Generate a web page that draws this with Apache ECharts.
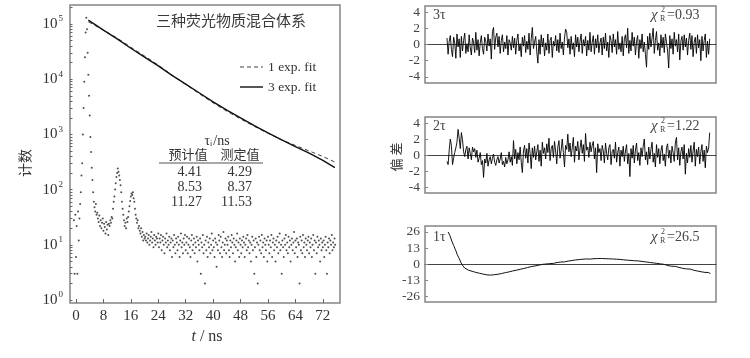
<!DOCTYPE html>
<html><head><meta charset="utf-8">
<script src="https://cdn.jsdelivr.net/npm/echarts@6/dist/echarts.min.js"></script>
<style>html,body{margin:0;padding:0;background:#fff}#c{width:750px;height:358px}</style>
</head><body><div id="c"></div>
<script>
// ---------- data ----------
const irfStart = -0.6, irfStep = 0.2;
const irfCounts = [
 28,3,35,6,22,3,40,12,30,55,
 90,180,300,1000,3000,9000,25000,70000,130000,80000,30000,12000,5000,2200,900,480,250,150,90,60,48,40,55,35,
 38,30,26,34,22,28,20,25,30,18,24,21,16,26,19,23,15,24,22,28,25,32,30,
 45,60,75,100,130,170,200,240,210,180,150,120,90,60,45,35,28,22,25,20,30,
 26,32,40,50,62,75,85,80,90,70,60,45,35,30,25,28,20,22,18,16,20,14,17,12,15,13,
 14,12,16,11,13,15,10,12,14,17,11,13,9,15,12,10,14,13,11,16,
 9,13,11,15,8,12,14,10,7,13,11,16,9,12,10,14,8,11,13,6,
 12,9,15,10,7,13,11,8,14,10,6,12,16,9,11,7,13,10,15,8,
 11,14,7,10,13,9,6,12,15,8,10,13,7,11,9,14,5,12,10,8,
 13,3,11,9,15,7,10,2,12,8,14,6,11,9,13,7,10,16,8,12,
 9,6,13,11,4,10,8,15,12,7,14,9,6,11,17,8,10,13,7,12,
 10,14,8,6,12,9,15,11,7,13,10,5,9,12,16,8,11,6,13,10,
 7,12,9,14,11,6,10,13,8,15,9,12,7,11,5,10,14,8,12,3,
 9,13,6,11,2,10,14,8,12,7,15,9,11,6,13,10,8,12,5,14,
 10,7,12,9,15,6,11,13,8,10,5,12,9,14,7,11,16,8,10,3,
 12,9,6,13,10,15,8,11,7,14,9,12,5,10,13,8,11,17,7,12,
 9,13,6,11,10,2,14,8,12,7,15,9,11,6,13,10,8,12,14,7,
 11,9,13,6,10,15,8,12,3,11,7,14,9,12,10,5,13,8,11,9,
 12,6,10,14,8,3,11,9,13,7,12,10,15,8,11,9,13,10
];
const fitTimes = [3.6,4,8,12,16,20,24,28,32,36,40,44,48,52,56,60,64,68,72,75.5];
const fit3Counts = [117500,114800,77600,53700,36300,25100,17400,11750,8130,5620,3890,2750,2000,1445,1070,794,603,457,339,251];
const fit1Counts = [109600,107200,77600,55600,38000,26300,18000,11900,8040,5430,3720,2630,1905,1400,1047,794,631,501,398,316];

const resStart = 4.2, resStep = 0.3;
const res3 = [
 0.8,-1.2,0.4,1.1,-0.6,-1.5,0.9,0.2,-1.7,1.3,-0.3,0.7,-1.6,1.0,-0.8,0.5,1.4,-1.1,0.1,-0.9,
 1.2,-0.4,-1.3,0.8,0.3,-1.0,1.5,-0.7,0.6,-1.4,0.2,1.1,-0.5,-1.2,0.9,0.4,-0.8,1.3,-0.2,0.7,
 -1.8,1.6,2.1,-0.6,0.9,1.4,-0.3,1.0,-1.1,0.5,1.2,-0.9,0.3,-0.5,1.1,-1.3,0.6,0.2,-0.7,1.0,
 -0.4,0.8,-1.2,0.5,1.3,-0.8,0.1,-1.5,0.9,-0.2,1.1,-1.0,0.4,-0.6,1.4,-1.3,0.7,2.1,-0.5,0.3,
 1.0,-0.9,-2.3,0.6,-1.2,1.2,-0.3,0.8,-1.4,0.2,-0.7,1.3,-1.1,0.5,0.9,-1.6,0.4,-0.2,1.1,-0.8,
 0.6,-1.0,1.4,-0.5,0.3,-1.3,0.8,1.9,1.5,-0.4,0.7,-1.2,1.0,-0.6,0.2,-1.5,1.2,-0.3,0.9,-0.9,
 0.4,1.3,-1.1,0.6,-0.2,1.0,-1.4,0.5,-0.7,1.5,-0.9,0.3,1.1,-1.2,0.7,-0.4,1.2,-1.0,0.2,0.8,
 -1.3,0.9,-0.5,1.4,-0.8,0.3,-1.6,1.1,0.5,-1.0,1.3,-0.3,0.6,-1.2,1.6,-0.6,0.2,-0.9,1.0,-1.4,
 0.7,1.2,-0.4,2.0,-1.1,0.5,-0.8,1.5,-0.2,0.9,-1.3,0.4,1.1,-1.7,0.6,-0.5,1.3,-0.9,0.3,-1.2,
 -2.8,1.0,-0.6,1.4,-0.3,0.8,2.0,-1.1,0.5,1.6,-0.7,0.2,-1.4,1.2,-0.4,0.9,-1.0,1.3,0.3,-0.8,
 -2.9,1.1,-0.5,0.7,-1.2,1.5,-0.2,0.6,-0.9,1.3,-1.9,0.4,1.0,-0.7,1.2,-0.3,0.8,-1.3,0.5,1.4,
 -0.6,1.1,-1.5,0.3,0.9,-1.1,1.2,-0.4,0.6,-2.0,1.0,-0.8,0.5,1.3,-1.6,0.4,-1.2,0.7
];
const res2 = [
 -0.8,-1.2,0.6,2.0,1.2,-1.2,-0.4,0.3,0.9,1.6,3.2,2.1,0.8,2.8,1.9,0.4,-0.2,0.7,1.1,-0.5,
 0.9,0.2,-0.6,1.0,0.4,0.8,-0.3,0.6,-0.9,-0.4,0.3,-1.2,-0.7,-2.8,-0.5,-1.0,0.2,-1.4,-0.6,-0.2,
 -1.1,-0.4,0.1,-0.9,-1.3,-0.6,-0.2,-1.0,-0.5,0.3,-1.2,-0.8,-1.5,-0.3,-1.1,-0.6,0.4,-0.9,-0.2,-1.3,
 1.8,-0.5,0.7,-1.1,0.3,-0.6,1.0,-0.9,-2.2,0.5,1.2,-0.4,0.8,-1.0,1.5,0.2,-1.7,0.9,-0.3,1.1,
 -0.6,0.4,1.3,-0.8,0.6,-1.4,1.6,0.2,0.9,-0.5,1.4,0.3,2.1,-0.7,0.8,1.2,-0.3,1.7,0.5,-1.1,
 1.0,1.8,-0.4,0.6,2.0,0.3,-1.5,1.2,0.7,2.6,0.4,1.5,-0.2,0.9,2.2,-0.9,1.1,0.5,1.7,-0.6,
 0.8,1.9,0.2,1.3,-0.8,2.7,0.6,1.0,-0.3,1.6,0.4,1.2,1.7,-0.5,0.9,-2.2,1.4,0.3,0.8,-0.7,
 1.2,0.5,-1.0,1.5,0.2,-0.6,0.9,1.3,-1.2,0.4,0.7,-0.4,1.6,-0.9,0.3,1.0,-1.4,0.6,-0.2,1.1,
 -0.8,0.5,1.3,-1.1,0.2,-2.7,0.8,-0.4,1.2,-1.0,0.6,1.5,-0.7,0.3,-1.3,0.9,-0.2,1.1,2.0,-0.6,
 0.4,-1.2,1.0,-0.5,0.7,1.6,-0.9,0.2,-1.5,1.3,-0.3,0.8,-1.1,0.5,1.2,-0.7,0.1,-1.4,0.9,1.4,
 -0.4,0.6,-1.0,1.1,0.3,-0.8,1.5,2.2,-0.6,0.9,-1.3,0.4,1.0,-0.5,1.3,-2.4,0.2,-1.0,0.8,-0.3,
 1.2,-0.9,0.5,1.6,-1.4,0.7,-0.2,1.0,-1.1,0.4,1.3,-0.8,0.6,-1.6,1.1,0.3,0.9,2.8
];
const res1Start = 4.5, res1Step = 0.5;
const res1 = [
 26,23,18.6,15,11.5,7.5,4.5,1.0,-1.5,-3.3,
 -4.4,-5.0,-5.6,-5.9,-6.5,-6.8,-7.3,-7.5,-8.0,-8.2,
 -8.7,-8.8,-9.4,-9.0,-9.3,-8.7,-8.9,-8.3,-8.2,-7.7,
 -7.6,-7.0,-6.9,-6.4,-6.1,-5.6,-5.3,-5.0,-4.7,-4.3,
 -4.0,-3.6,-3.2,-2.9,-2.6,-2.1,-1.9,-1.6,-1.3,-1.0,
 -0.6,-0.3,-0.4,0.0,0.2,0.3,0.6,0.5,1.0,1.2,
 1.1,1.6,1.8,1.7,2.2,2.4,2.3,2.8,2.9,3.3,
 3.1,3.6,3.5,3.9,3.8,4.1,4.3,4.0,4.4,4.3,
 4.6,4.4,4.7,4.5,4.7,4.3,4.6,4.2,4.5,4.1,
 4.3,3.9,4.1,3.7,3.9,3.4,3.6,3.1,3.5,2.9,
 3.3,2.6,2.2,2.5,1.9,2.1,1.5,1.7,1.1,1.3,
 0.7,0.9,0.3,0.5,-0.1,0.1,-0.5,-0.3,-1.0,-1.3,
 -1.1,-1.8,-2.0,-1.9,-2.6,-2.8,-3.0,-3.5,-3.3,-4.0,
 -4.3,-4.1,-4.9,-5.1,-5.0,-5.7,-5.5,-6.3,-6.0,-6.8,
 -7.2,-6.9,-7.8
];
const xTicks = [0,8,16,24,32,40,48,56,64,72];
const yDecades = [0,1,2,3,4,5];
const resTicksSmall = [-4,-2,0,2,4];
const resTicksLarge = [-26,-13,0,13,26];
const tauPredicted = ['4.41','8.53','11.27'];
const tauMeasured = ['4.29','8.37','11.53'];
const chiValues = ['0.93','1.22','26.5'];
const panelLabels = ['3τ','2τ','1τ'];
const legendNames = ['1 exp. fit','3 exp. fit'];

// ---------- helpers ----------
const SERIF = 'Liberation Serif';
const CJK = 'Noto Sans CJK SC';
const TXT = '#333';
const FRAME = '#858585';
const lg = v => Math.log10(v);
const minorLog = [];
for (let n = 0; n <= 5; n++) for (let k = 1; k <= 9; k++) minorLog.push(n + Math.log10(k));

const irfData = irfCounts.map((c, i) => [irfStart + i * irfStep, lg(c)]);
const fit3Data = fitTimes.map((t, i) => [t, lg(fit3Counts[i])]);
const fit1Data = fitTimes.map((t, i) => [t, lg(fit1Counts[i])]);
const r3Data = res3.map((v, i) => [resStart + i * resStep, v]);
const r2Data = res2.map((v, i) => [resStart + i * resStep, v]);
const r1Data = res1.map((v, i) => [res1Start + i * res1Step, v]);

const resGrids = [
  {left: 425, top: 6, width: 291, height: 77},
  {left: 425, top: 117, width: 291, height: 76},
  {left: 425, top: 226, width: 291, height: 76}
];
const grids = [{left: 70, top: 5, width: 270, height: 298}].concat(resGrids).map(g =>
  Object.assign({show: true, borderColor: FRAME, borderWidth: 1.5, backgroundColor: 'transparent'}, g));

const xAxes = [{
  gridIndex: 0, type: 'value', min: -1.75, max: 77,
  axisLine: {show: false, onZero: false}, splitLine: {show: false},
  axisTick: {inside: true, length: 4, customValues: xTicks, lineStyle: {color: '#666'}},
  axisLabel: {customValues: xTicks, margin: 6, fontFamily: SERIF, fontSize: 15, color: TXT}
}];
const yAxes = [{
  gridIndex: 0, type: 'value', min: -0.054, max: 5.344,
  axisLine: {show: false, onZero: false}, splitLine: {show: false},
  axisTick: {inside: true, length: 2.5, customValues: minorLog, lineStyle: {color: '#666'}},
  axisLabel: {
    customValues: yDecades, margin: 7, fontFamily: SERIF, color: TXT,
    formatter: v => '{b|10}{s|' + v + '}',
    rich: {b: {fontSize: 15, fontFamily: SERIF, color: TXT}, s: {fontSize: 9, fontFamily: SERIF, color: TXT, padding: [0, 0, 10, 1]}}
  }
}];
const resRanges = [[-4.75, 4.75, resTicksSmall], [-4.75, 4.75, resTicksSmall], [-30.8, 30.8, resTicksLarge]];
resRanges.forEach((r, k) => {
  xAxes.push({
    gridIndex: k + 1, type: 'value', min: -1.75, max: 77,
    axisLine: {show: true, onZero: true, lineStyle: {color: '#444', width: 1}},
    axisTick: {show: false}, axisLabel: {show: false}, splitLine: {show: false}
  });
  yAxes.push({
    gridIndex: k + 1, type: 'value', min: r[0], max: r[1],
    axisLine: {show: false, onZero: false}, splitLine: {show: false},
    axisTick: {inside: true, length: 3, customValues: r[2], lineStyle: {color: FRAME}},
    axisLabel: {customValues: r[2], margin: 5, fontFamily: SERIF, fontSize: 13.5, color: '#444'}
  });
});

const series = [
  {type: 'scatter', xAxisIndex: 0, yAxisIndex: 0, data: irfData, symbolSize: 2, itemStyle: {color: '#222'}, silent: true},
  {name: legendNames[0], type: 'line', xAxisIndex: 0, yAxisIndex: 0, data: fit1Data, showSymbol: false,
   lineStyle: {color: '#444', width: 1, type: [4, 3]}},
  {name: legendNames[1], type: 'line', xAxisIndex: 0, yAxisIndex: 0, data: fit3Data, showSymbol: false,
   lineStyle: {color: '#111', width: 1.4}},
  {type: 'line', xAxisIndex: 1, yAxisIndex: 1, data: r3Data, showSymbol: false, lineStyle: {color: '#000', width: 0.9}},
  {type: 'line', xAxisIndex: 2, yAxisIndex: 2, data: r2Data, showSymbol: false, lineStyle: {color: '#000', width: 0.9}},
  {type: 'line', xAxisIndex: 3, yAxisIndex: 3, data: r1Data, showSymbol: false, lineStyle: {color: '#111', width: 1}}
];

// ---------- annotations ----------
const g = [];
const txt = (x, y, text, o) => g.push({type: 'text', x, y, style: Object.assign({text, fill: TXT, fontFamily: SERIF, fontSize: 13, align: 'left', verticalAlign: 'middle'}, o || {})});
txt(231, 20, '三种荧光物质混合体系', {fontFamily: CJK, fontSize: 15, align: 'center', fill: '#3a3a3a'});
// legend
g.push({type: 'line', shape: {x1: 240, y1: 67, x2: 263, y2: 67}, style: {stroke: '#444', lineWidth: 1, lineDash: [4, 3]}});
g.push({type: 'line', shape: {x1: 240, y1: 87, x2: 263, y2: 87}, style: {stroke: '#111', lineWidth: 1.4}});
txt(268, 67, legendNames[0], {fontSize: 13.5});
txt(268, 87, legendNames[1], {fontSize: 13.5});
// table
g.push({type: 'text', x: 217, y: 141, style: {text: '{a|τ}{i|i}{a|/ns}', align: 'center', verticalAlign: 'middle',
  rich: {a: {fontFamily: SERIF, fontSize: 14, fill: TXT}, i: {fontFamily: SERIF, fontSize: 8, fill: TXT, padding: [6, 1, 0, 0]}}}});
txt(188, 154, '预计值', {fontFamily: CJK, fontSize: 13, align: 'center'});
txt(240, 154, '测定值', {fontFamily: CJK, fontSize: 13, align: 'center'});
g.push({type: 'line', shape: {x1: 159, y1: 163, x2: 263, y2: 163}, style: {stroke: '#555', lineWidth: 1.2}});
tauPredicted.forEach((v, i) => {
  txt(202, 172 + i * 15, v, {align: 'right', fontSize: 14});
  txt(252, 172 + i * 15, tauMeasured[i], {align: 'right', fontSize: 14});
});
// axis names
g.push({type: 'text', x: 25, y: 163, rotation: Math.PI / 2, style: {text: '计数', fontFamily: CJK, fontSize: 14, fill: TXT, align: 'center', verticalAlign: 'middle'}});
g.push({type: 'text', x: 396, y: 157, rotation: Math.PI / 2, style: {text: '偏 差', fontFamily: CJK, fontSize: 13, fill: TXT, align: 'center', verticalAlign: 'middle'}});
g.push({type: 'text', x: 207, y: 337, style: {text: '{i|t} / ns', align: 'center', verticalAlign: 'middle',
  rich: {i: {fontFamily: SERIF, fontStyle: 'italic', fontSize: 16, fill: TXT}}, fontFamily: SERIF, fontSize: 16, fill: TXT}});
// residual panel labels
const panelY = [15, 126, 237];
panelY.forEach((y, k) => {
  txt(433, y, panelLabels[k], {fontSize: 14, fill: '#444'});
  txt(651, y, 'χ', {fontSize: 15, fontStyle: 'italic', fill: '#444'});
  txt(661, y - 5, '2', {fontSize: 8, fill: '#444'});
  txt(660, y + 4, 'R', {fontSize: 8, fill: '#444'});
  txt(667, y, '=' + chiValues[k], {fontSize: 14, fill: '#444'});
});

const chart = echarts.init(document.getElementById('c'), null, {renderer: 'canvas'});
chart.setOption({animation: false, backgroundColor: '#fff', grid: grids, xAxis: xAxes, yAxis: yAxes, series, graphic: g});
</script></body></html>
